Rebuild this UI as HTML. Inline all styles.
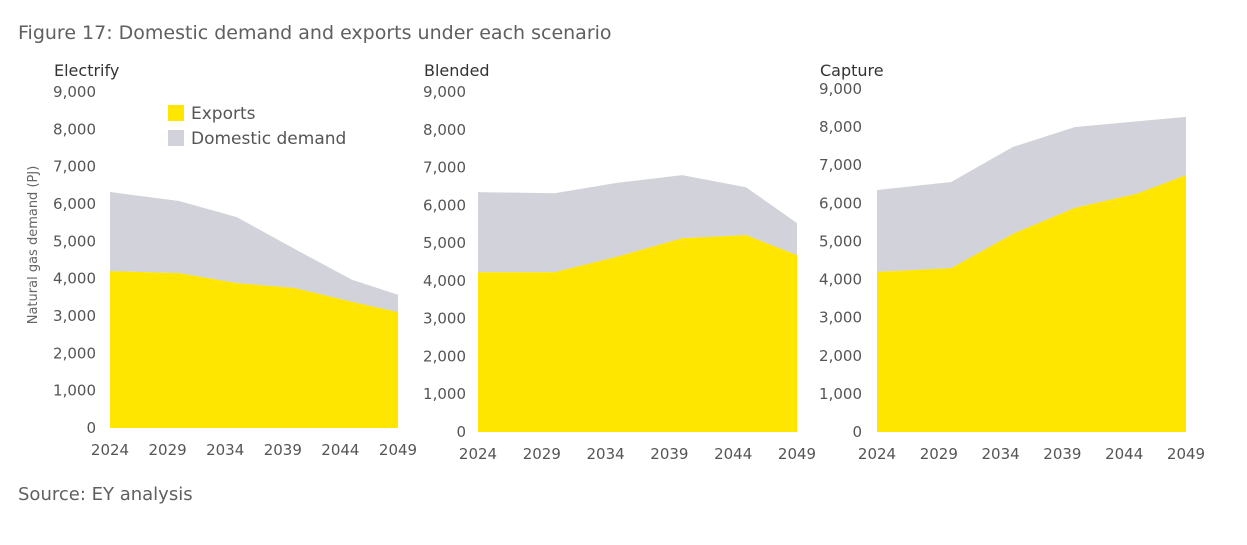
<!DOCTYPE html>
<html><head><meta charset="utf-8"><style>
body{margin:0;background:#fff;width:1247px;height:541px;overflow:hidden;font-family:"DejaVu Sans","Liberation Sans",sans-serif;}
svg text{font-family:"DejaVu Sans","Liberation Sans",sans-serif;}
</style></head><body>
<svg id="fig" width="1247" height="541" xmlns="http://www.w3.org/2000/svg">
<text x="18" y="39" font-size="19" fill="#5f5f5f">Figure 17: Domestic demand and exports under each scenario</text>
<text x="18" y="500" font-size="18" fill="#5f5f5f">Source: EY analysis</text>
<text transform="translate(37,245) rotate(-90)" text-anchor="middle" font-size="13" fill="#666">Natural gas demand (PJ)</text>
<g>
<rect x="168" y="105" width="16" height="16" fill="#ffe600"/>
<text x="191" y="119" font-size="17" fill="#555">Exports</text>
<rect x="168" y="130" width="16" height="16" fill="#d2d2da"/>
<text x="191" y="144" font-size="17" fill="#555">Domestic demand</text>
</g>
</svg>
<script>
const years=[2024,2030,2035,2040,2045,2049];
const tickYears=[2024,2029,2034,2039,2044,2049];
const yTicks=[0,1000,2000,3000,4000,5000,6000,7000,8000,9000];
const electrifyTotal=[6320,6080,5650,4800,3970,3570];
const electrifyExports=[4200,4150,3880,3750,3380,3100];
const blendedTotal=[6350,6320,6600,6800,6480,5530];
const blendedExports=[4230,4230,4650,5130,5210,4680];
const captureTotal=[6350,6560,7480,8000,8150,8270];
const captureExports=[4200,4300,5200,5880,6250,6740];
const NS="http://www.w3.org/2000/svg";
const svg=document.getElementById('fig');
function mk(tag,attrs,parent){const e=document.createElementNS(NS,tag);for(const k in attrs)e.setAttribute(k,attrs[k]);parent.appendChild(e);return e;}
function panel(name,title,x0,x1,y0,y9,labelX,xLabelY,total,exports){
  const g=mk('g',{},svg);
  
  
  const xs=v=>x0+(v-2024)/(2049-2024)*(x1-x0);
  const ys=v=>y0-(v/9000)*(y0-y9);
  const t=mk('text',{x:labelX-42,y:76,'font-size':16,fill:'#333'},g);
  
  
  t.textContent=title;
  yTicks.forEach(v=>{
    const l=mk('text',{x:labelX,y:ys(v)+5,'font-size':15,fill:'#555','text-anchor':'end'},g);
    
    
    l.textContent=v.toLocaleString('en-US');
  });
  tickYears.forEach(v=>{
    const l=mk('text',{x:xs(v),y:xLabelY,'font-size':15,fill:'#555','text-anchor':'middle'},g);
    
    
    l.textContent=v;
  });
  function area(top,bottom,color,n){
    let d='M'+years.map((y,i)=>xs(y)+','+ys(top[i])).join(' L');
    for(let i=years.length-1;i>=0;i--)d+=' L'+xs(years[i])+','+ys(bottom?bottom[i]:0);
    const p=mk('path',{d:d+'Z',fill:color},g);
    
    
  }
  area(total,exports,'#d2d2da',name+'-domestic-area');
  area(exports,null,'#ffe600',name+'-exports-area');
}
panel('electrify','Electrify',110,398,428,92,96,455,electrifyTotal,electrifyExports);
panel('blended','Blended',478,797,432,92,466,459,blendedTotal,blendedExports);
panel('capture','Capture',877,1186,432,89,862,459,captureTotal,captureExports);
</script>
</body></html>
